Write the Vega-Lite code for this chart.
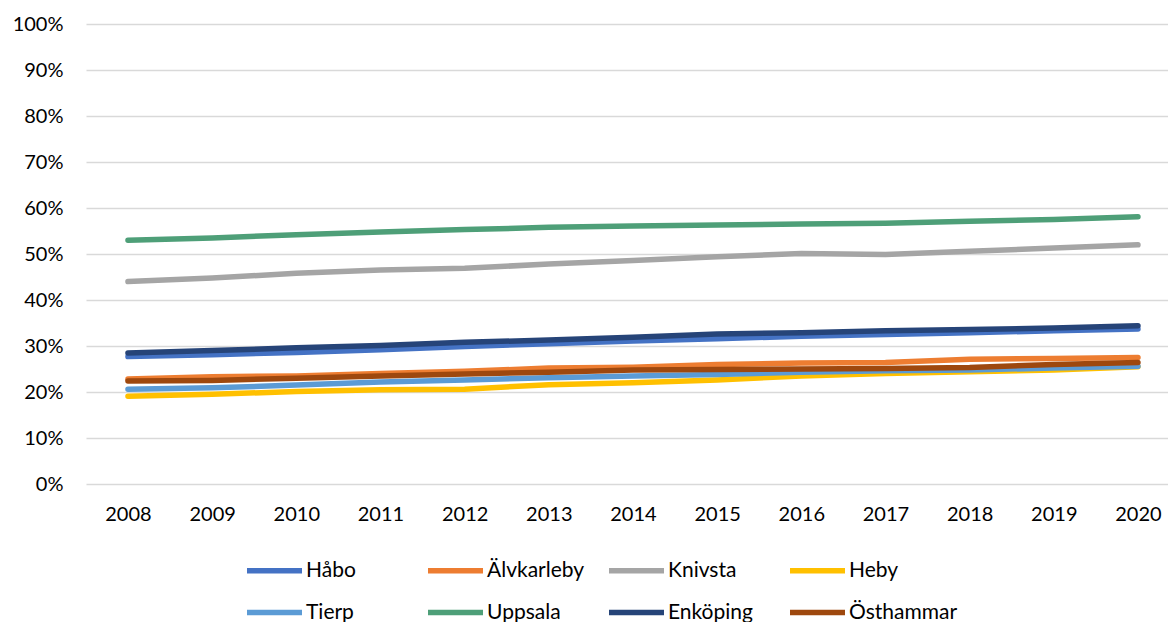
{
  "$schema": "https://vega.github.io/schema/vega-lite/v6.json",
  "autosize": {"type": "none"},
  "padding": {"left": 86, "top": 24, "right": 0, "bottom": 138},
  "width": 1082,
  "height": 460,
  "background": "#ffffff",
  "config": {
    "view": {"stroke": null},
    "font": "Lato",
    "axis": {"labelFont": "Lato", "labelFontSize": 20, "labelColor": "#000000"},
    "legend": {"labelFont": "Lato", "labelFontSize": 21, "labelColor": "#000000"}
  },
  "data": {"values": [
    {"year":"2008","kommun":"Håbo","value":0.277},{"year":"2009","kommun":"Håbo","value":0.281},{"year":"2010","kommun":"Håbo","value":0.286},{"year":"2011","kommun":"Håbo","value":0.292},{"year":"2012","kommun":"Håbo","value":0.299},{"year":"2013","kommun":"Håbo","value":0.305},{"year":"2014","kommun":"Håbo","value":0.311},{"year":"2015","kommun":"Håbo","value":0.316},{"year":"2016","kommun":"Håbo","value":0.321},{"year":"2017","kommun":"Håbo","value":0.325},{"year":"2018","kommun":"Håbo","value":0.329},{"year":"2019","kommun":"Håbo","value":0.333},{"year":"2020","kommun":"Håbo","value":0.337},
    {"year":"2008","kommun":"Älvkarleby","value":0.228},{"year":"2009","kommun":"Älvkarleby","value":0.233},{"year":"2010","kommun":"Älvkarleby","value":0.235},{"year":"2011","kommun":"Älvkarleby","value":0.240},{"year":"2012","kommun":"Älvkarleby","value":0.245},{"year":"2013","kommun":"Älvkarleby","value":0.252},{"year":"2014","kommun":"Älvkarleby","value":0.254},{"year":"2015","kommun":"Älvkarleby","value":0.260},{"year":"2016","kommun":"Älvkarleby","value":0.263},{"year":"2017","kommun":"Älvkarleby","value":0.264},{"year":"2018","kommun":"Älvkarleby","value":0.271},{"year":"2019","kommun":"Älvkarleby","value":0.273},{"year":"2020","kommun":"Älvkarleby","value":0.275},
    {"year":"2008","kommun":"Knivsta","value":0.440},{"year":"2009","kommun":"Knivsta","value":0.448},{"year":"2010","kommun":"Knivsta","value":0.458},{"year":"2011","kommun":"Knivsta","value":0.465},{"year":"2012","kommun":"Knivsta","value":0.469},{"year":"2013","kommun":"Knivsta","value":0.478},{"year":"2014","kommun":"Knivsta","value":0.486},{"year":"2015","kommun":"Knivsta","value":0.494},{"year":"2016","kommun":"Knivsta","value":0.501},{"year":"2017","kommun":"Knivsta","value":0.499},{"year":"2018","kommun":"Knivsta","value":0.506},{"year":"2019","kommun":"Knivsta","value":0.513},{"year":"2020","kommun":"Knivsta","value":0.520},
    {"year":"2008","kommun":"Heby","value":0.191},{"year":"2009","kommun":"Heby","value":0.195},{"year":"2010","kommun":"Heby","value":0.201},{"year":"2011","kommun":"Heby","value":0.205},{"year":"2012","kommun":"Heby","value":0.206},{"year":"2013","kommun":"Heby","value":0.216},{"year":"2014","kommun":"Heby","value":0.220},{"year":"2015","kommun":"Heby","value":0.226},{"year":"2016","kommun":"Heby","value":0.235},{"year":"2017","kommun":"Heby","value":0.240},{"year":"2018","kommun":"Heby","value":0.244},{"year":"2019","kommun":"Heby","value":0.248},{"year":"2020","kommun":"Heby","value":0.255},
    {"year":"2008","kommun":"Tierp","value":0.206},{"year":"2009","kommun":"Tierp","value":0.209},{"year":"2010","kommun":"Tierp","value":0.215},{"year":"2011","kommun":"Tierp","value":0.222},{"year":"2012","kommun":"Tierp","value":0.226},{"year":"2013","kommun":"Tierp","value":0.231},{"year":"2014","kommun":"Tierp","value":0.235},{"year":"2015","kommun":"Tierp","value":0.238},{"year":"2016","kommun":"Tierp","value":0.243},{"year":"2017","kommun":"Tierp","value":0.246},{"year":"2018","kommun":"Tierp","value":0.248},{"year":"2019","kommun":"Tierp","value":0.252},{"year":"2020","kommun":"Tierp","value":0.256},
    {"year":"2008","kommun":"Uppsala","value":0.530},{"year":"2009","kommun":"Uppsala","value":0.535},{"year":"2010","kommun":"Uppsala","value":0.542},{"year":"2011","kommun":"Uppsala","value":0.548},{"year":"2012","kommun":"Uppsala","value":0.553},{"year":"2013","kommun":"Uppsala","value":0.558},{"year":"2014","kommun":"Uppsala","value":0.561},{"year":"2015","kommun":"Uppsala","value":0.563},{"year":"2016","kommun":"Uppsala","value":0.565},{"year":"2017","kommun":"Uppsala","value":0.567},{"year":"2018","kommun":"Uppsala","value":0.571},{"year":"2019","kommun":"Uppsala","value":0.575},{"year":"2020","kommun":"Uppsala","value":0.581},
    {"year":"2008","kommun":"Enköping","value":0.285},{"year":"2009","kommun":"Enköping","value":0.290},{"year":"2010","kommun":"Enköping","value":0.296},{"year":"2011","kommun":"Enköping","value":0.301},{"year":"2012","kommun":"Enköping","value":0.308},{"year":"2013","kommun":"Enköping","value":0.313},{"year":"2014","kommun":"Enköping","value":0.319},{"year":"2015","kommun":"Enköping","value":0.326},{"year":"2016","kommun":"Enköping","value":0.329},{"year":"2017","kommun":"Enköping","value":0.333},{"year":"2018","kommun":"Enköping","value":0.336},{"year":"2019","kommun":"Enköping","value":0.339},{"year":"2020","kommun":"Enköping","value":0.344},
    {"year":"2008","kommun":"Östhammar","value":0.224},{"year":"2009","kommun":"Östhammar","value":0.225},{"year":"2010","kommun":"Östhammar","value":0.230},{"year":"2011","kommun":"Östhammar","value":0.235},{"year":"2012","kommun":"Östhammar","value":0.239},{"year":"2013","kommun":"Östhammar","value":0.243},{"year":"2014","kommun":"Östhammar","value":0.248},{"year":"2015","kommun":"Östhammar","value":0.249},{"year":"2016","kommun":"Östhammar","value":0.250},{"year":"2017","kommun":"Östhammar","value":0.251},{"year":"2018","kommun":"Östhammar","value":0.253},{"year":"2019","kommun":"Östhammar","value":0.260},{"year":"2020","kommun":"Östhammar","value":0.264}
  ]},
  "mark": {"type": "line", "strokeWidth": 5.5, "strokeCap": "round", "strokeJoin": "round"},
  "encoding": {
    "x": {
      "field": "year", "type": "ordinal",
      "scale": {"type": "point", "padding": 0.4277, "align": 0.583},
      "axis": {"title": null, "labelAngle": 0, "domain": false, "ticks": false, "tickSize": 0, "grid": false, "labelPadding": 20, "labelBaseline": "top"}
    },
    "y": {
      "field": "value", "type": "quantitative",
      "scale": {"domain": [0, 1], "nice": false},
      "axis": {"title": null, "values": [0,0.1,0.2,0.3,0.4,0.5,0.6,0.7,0.8,0.9,1], "format": ".0%", "domain": false, "ticks": false, "tickSize": 0, "labelPadding": 23, "gridColor": "#D9D9D9", "gridWidth": 1.5}
    },
    "color": {
      "field": "kommun", "type": "nominal",
      "scale": {
        "domain": ["Håbo","Älvkarleby","Knivsta","Heby","Tierp","Uppsala","Enköping","Östhammar"],
        "range": ["#4472C4","#ED7D31","#A5A5A5","#FFC000","#5B9BD5","#4E9F78","#264478","#9E480E"]
      },
      "legend": {
        "title": null, "orient": "none", "legendX": 158, "legendY": 516,
        "direction": "horizontal", "columns": 4, "gridAlign": "all",
        "symbolType": "stroke", "symbolSize": 3025, "symbolStrokeWidth": 5.5,
        "labelOffset": 1, "columnPadding": 2, "rowPadding": -13, "padding": 0
      }
    }
  }
}
